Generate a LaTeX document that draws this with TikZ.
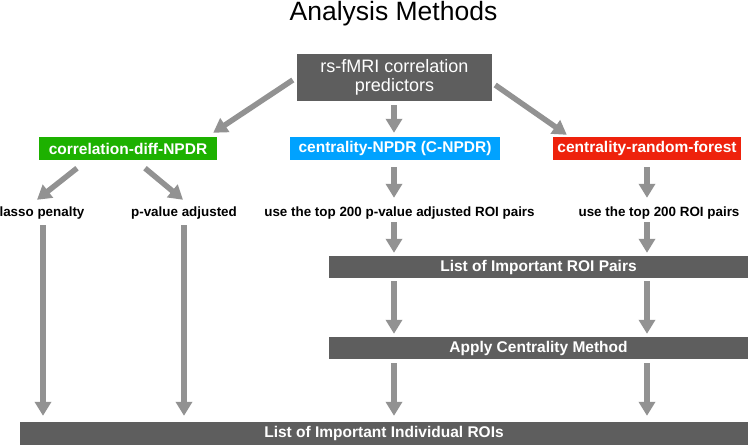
\documentclass[tikz,border=0pt]{standalone}
\usepackage{fontspec}
\setmainfont{Liberation Sans}
\usetikzlibrary{arrows.meta,calc}
\definecolor{boxgray}{HTML}{5E5E5E}
\definecolor{arrowgray}{HTML}{929292}
\definecolor{mgreen}{HTML}{1DB100}
\definecolor{mblue}{HTML}{00A2FF}
\definecolor{mred}{HTML}{EE220C}
\begin{document}
\begin{tikzpicture}[x=1pt,y=-1pt,
  arr/.style={draw=arrowgray,line width=5.5pt,-{Triangle[width=16pt,length=14pt]}},
  graybox/.style={fill=boxgray,text=white,inner sep=0pt,font=\bfseries\fontsize{15.5}{18}\selectfont},
  methodbox/.style={text=white,inner sep=0pt,minimum height=23pt,font=\bfseries\fontsize{15.5}{18}\selectfont},
  steptext/.style={inner sep=0pt,anchor=base,text height=10pt,text depth=3pt,font=\bfseries\fontsize{13.4}{16}\selectfont}]
\fill[white] (0,0) rectangle (750,446);
\useasboundingbox (0,0) rectangle (750,446);

\node[font=\fontsize{26.5}{30}\selectfont,anchor=base,inner sep=0pt] (title) at (393.5,21) {Analysis Methods};
\node[fill=boxgray,text=white,minimum width=195pt,minimum height=47pt,inner sep=0pt,align=center,font=\fontsize{18}{19.5}\selectfont] (top) at (394.5,77.5) {rs-fMRI correlation\\predictors};

\node[methodbox,fill=mgreen,minimum width=178pt] (green) at (128,148.5) {correlation-diff-NPDR};
\node[methodbox,fill=mblue,minimum width=210pt] (blue) at (395,148.5) {centrality-NPDR (C-NPDR)};
\node[methodbox,fill=mred,minimum width=188pt] (red) at (647,148.5) {centrality-random-forest};

\node[steptext] (lasso) at (42,217) {lasso penalty};
\node[steptext] (pval) at (184,217) {p-value adjusted};
\node[steptext] (use1) at (399.5,217) {use the top 200 p-value adjusted ROI pairs};
\node[steptext] (use2) at (659,217) {use the top 200 ROI pairs};

\node[graybox,minimum width=419pt,minimum height=22pt] (pairs) at (538.5,267) {List of Important ROI Pairs};
\node[graybox,minimum width=419pt,minimum height=22pt] (apply) at (538.5,348) {Apply Centrality Method};
\node[graybox,minimum width=728pt,minimum height=23pt] (final) at (384,433.5) {List of Important Individual ROIs};

\coordinate (cA) at (43,0);
\coordinate (cB) at (184,0);
\coordinate (cC) at (394,0);
\coordinate (cD) at (647,0);

\draw[arr] ($(top.west)+(-4,2.5)$) -- ($(green.north east)+(-4,-4)$);
\draw[arr] ($(cC|-top.south)+(0,4)$) -- ($(cC|-blue.north)+(0,-4)$);
\draw[arr] ($(top.east)+(3,7.5)$) -- ($(red.north west)+(14,-2)$);

\draw[arr] ($(green.south)+(-51,8)$) -- ($(lasso.north)+(-5,-7)$);
\draw[arr] ($(green.south)+(17,8)$) -- ($(pval.north)+(-1,-7)$);
\draw[arr] ($(cC|-blue.south)+(0,7)$) -- ($(cC|-use1.north)+(0,-9)$);
\draw[arr] ($(cD|-red.south)+(0,7)$) -- ($(cD|-use2.north)+(0,-9)$);

\draw[arr] ($(cC|-use1.south)+(0,2)$) -- ($(cC|-pairs.north)+(0,-3)$);
\draw[arr] ($(cD|-use2.south)+(0,2)$) -- ($(cD|-pairs.north)+(0,-3)$);
\draw[arr] ($(cC|-pairs.south)+(0,3)$) -- ($(cC|-apply.north)+(0,-3)$);
\draw[arr] ($(cD|-pairs.south)+(0,3)$) -- ($(cD|-apply.north)+(0,-3)$);
\draw[arr] ($(cC|-apply.south)+(0,4)$) -- ($(cC|-final.north)+(0,-6)$);
\draw[arr] ($(cD|-apply.south)+(0,4)$) -- ($(cD|-final.north)+(0,-6)$);
\draw[arr] ($(cA|-lasso.south)+(0,5)$) -- ($(cA|-final.north)+(0,-6)$);
\draw[arr] ($(cB|-pval.south)+(0,5)$) -- ($(cB|-final.north)+(0,-6)$);
\end{tikzpicture}
\end{document}
